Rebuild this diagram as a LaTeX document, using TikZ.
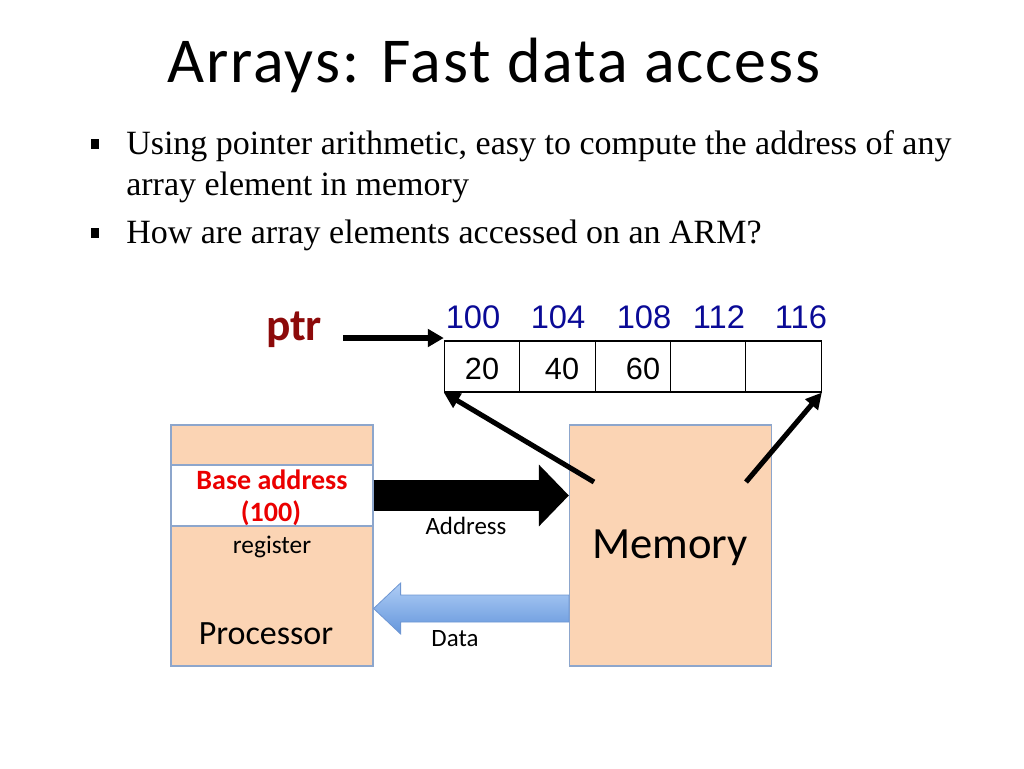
\documentclass[tikz,border=0pt]{standalone}
\usepackage{fontspec}
\setmainfont{Liberation Serif}
\newfontfamily\calfont{Carlito}
\newfontfamily\titlefont[LetterSpace=3]{Carlito}
\newfontfamily\arifont{Liberation Sans}
\usetikzlibrary{arrows.meta,calc}
\definecolor{peach}{RGB}{251,212,180}
\definecolor{boxline}{RGB}{141,166,204}
\definecolor{ptrred}{RGB}{140,10,10}
\definecolor{navy}{RGB}{10,10,150}
\definecolor{basered}{RGB}{235,0,0}
\definecolor{blueTop}{RGB}{175,205,245}
\definecolor{blueBot}{RGB}{100,150,220}
\definecolor{blueLine}{RGB}{110,150,210}
\begin{document}
\begin{tikzpicture}[x=0.75pt,y=-0.75pt,
  block/.style={draw=boxline,line width=0.9pt,fill=peach,minimum width=151.5pt,minimum height=180.75pt,inner sep=0pt},
  cellbox/.style={draw=black,line width=0.8pt,minimum width=56.55pt,minimum height=38.25pt,inner sep=0pt},
  addr/.style={font=\arifont\fontsize{24.5}{28}\selectfont,text=navy,inner sep=0pt,anchor=base},
  val/.style={font=\arifont\fontsize{23}{26}\selectfont,inner sep=0pt,anchor=base},
  bodytext/.style={anchor=base west,inner sep=0pt,font=\fontsize{25.5}{30}\selectfont},
  bullet/.style={fill=black,minimum width=6pt,minimum height=7.5pt,inner sep=0pt},
  small/.style={font=\calfont\fontsize{18.7}{22}\selectfont,inner sep=0pt},
  thinarrow/.style={line width=3.8pt,-{Triangle[length=12pt,width=12pt]}}
]
\useasboundingbox (0,0) rectangle (1024,768);
% title
\node[anchor=base west,inner sep=0pt,font=\titlefont\fontsize{48}{56}\selectfont] (title) at (167,82) {Arrays: Fast data access};
% bullets
\node[bullet] (b1) at (95,144) {};
\node[bodytext] (t1) at (126,154) {Using pointer arithmetic, easy to compute the address of any};
\node[bodytext] (t2) at (126,195) {array element in memory};
\node[bullet] (b2) at (95,233) {};
\node[bodytext] (t3) at (126,243) {How are array elements accessed on an ARM?};
% ptr
\node[font=\calfont\bfseries\fontsize{34}{38}\selectfont,text=ptrred,inner sep=0pt,anchor=base] (ptr) at (294,340) {ptr};
% cells
\node[cellbox] (c1) at (482,366.5) {};
\node[cellbox] (c2) at (557.4,366.5) {};
\node[cellbox] (c3) at (632.8,366.5) {};
\node[cellbox] (c4) at (708.2,366.5) {};
\node[cellbox] (c5) at (783.6,366.5) {};
\node[val] (v1) at (482,379) {20};
\node[val] (v2) at (562,379) {40};
\node[val] (v3) at (643,379) {60};
\node[addr] (a1) at (473,328) {100};
\node[addr] (a2) at (558,328) {104};
\node[addr] (a3) at (644,328) {108};
\node[addr] (a4) at (719,328) {112};
\node[addr] (a5) at (801,328) {116};
\coordinate (ps) at (343,338);
\draw[line width=3.8pt,-{Triangle[length=12pt,width=13pt]}] (ps) -- (c1.north west |- ps);
% processor and memory
\node[block] (proc) at (272,545.5) {};
\node[block] (mem) at (670.5,545.5) {};
\node[draw=boxline,line width=0.9pt,fill=white,minimum width=151.5pt,minimum height=45.75pt,inner sep=0pt] (reg) at (272,495.5) {};
\node[font=\calfont\bfseries\fontsize{21}{24}\selectfont,text=basered,inner sep=0pt] (base1) at (272,480) {Base address};
\node[font=\calfont\bfseries\fontsize{21}{24}\selectfont,text=basered,inner sep=0pt] (base2) at (271,513) {(100)};
\node[font=\calfont\fontsize{19}{22}\selectfont,inner sep=0pt] (regl) at (272,547) {register};
\node[font=\calfont\fontsize{25.5}{30}\selectfont,inner sep=0pt] (procl) at (266,634) {Processor};
\node[font=\calfont\fontsize{33.5}{38}\selectfont,inner sep=0pt] (meml) at (670,548) {Memory};
% address arrow
\draw[line width=23.25pt,-{Triangle[length=22.5pt,width=45pt]}] (reg.east) -- (mem.west |- reg.east);
\node[small] (addrl) at (466,526) {Address};
% data arrow
\coordinate (dA) at ($(mem.west)+(0,63)$);
\coordinate (dB) at ($(proc.east)+(0,63)$);
\shade[top color=blueTop,bottom color=blueBot,draw=blueLine,line width=0.6pt]
  ($(dA)+(0,-13.5)$) -- ($(dB)+(27,-13.5)$) -- ($(dB)+(27,-25.5)$) -- (dB) -- ($(dB)+(27,25.5)$) -- ($(dB)+(27,13.5)$) -- ($(dA)+(0,13.5)$) -- cycle;
\node[small] (datal) at (455,639) {Data};
% diagonal arrows
\coordinate (m1) at ($(mem.center)+(-76.5,-63.5)$);
\coordinate (m2) at ($(mem.center)+(75.5,-63.5)$);
\draw[thinarrow] (m1) -- (c1.south west);
\draw[thinarrow] (m2) -- (c5.south east);
\end{tikzpicture}
\end{document}
